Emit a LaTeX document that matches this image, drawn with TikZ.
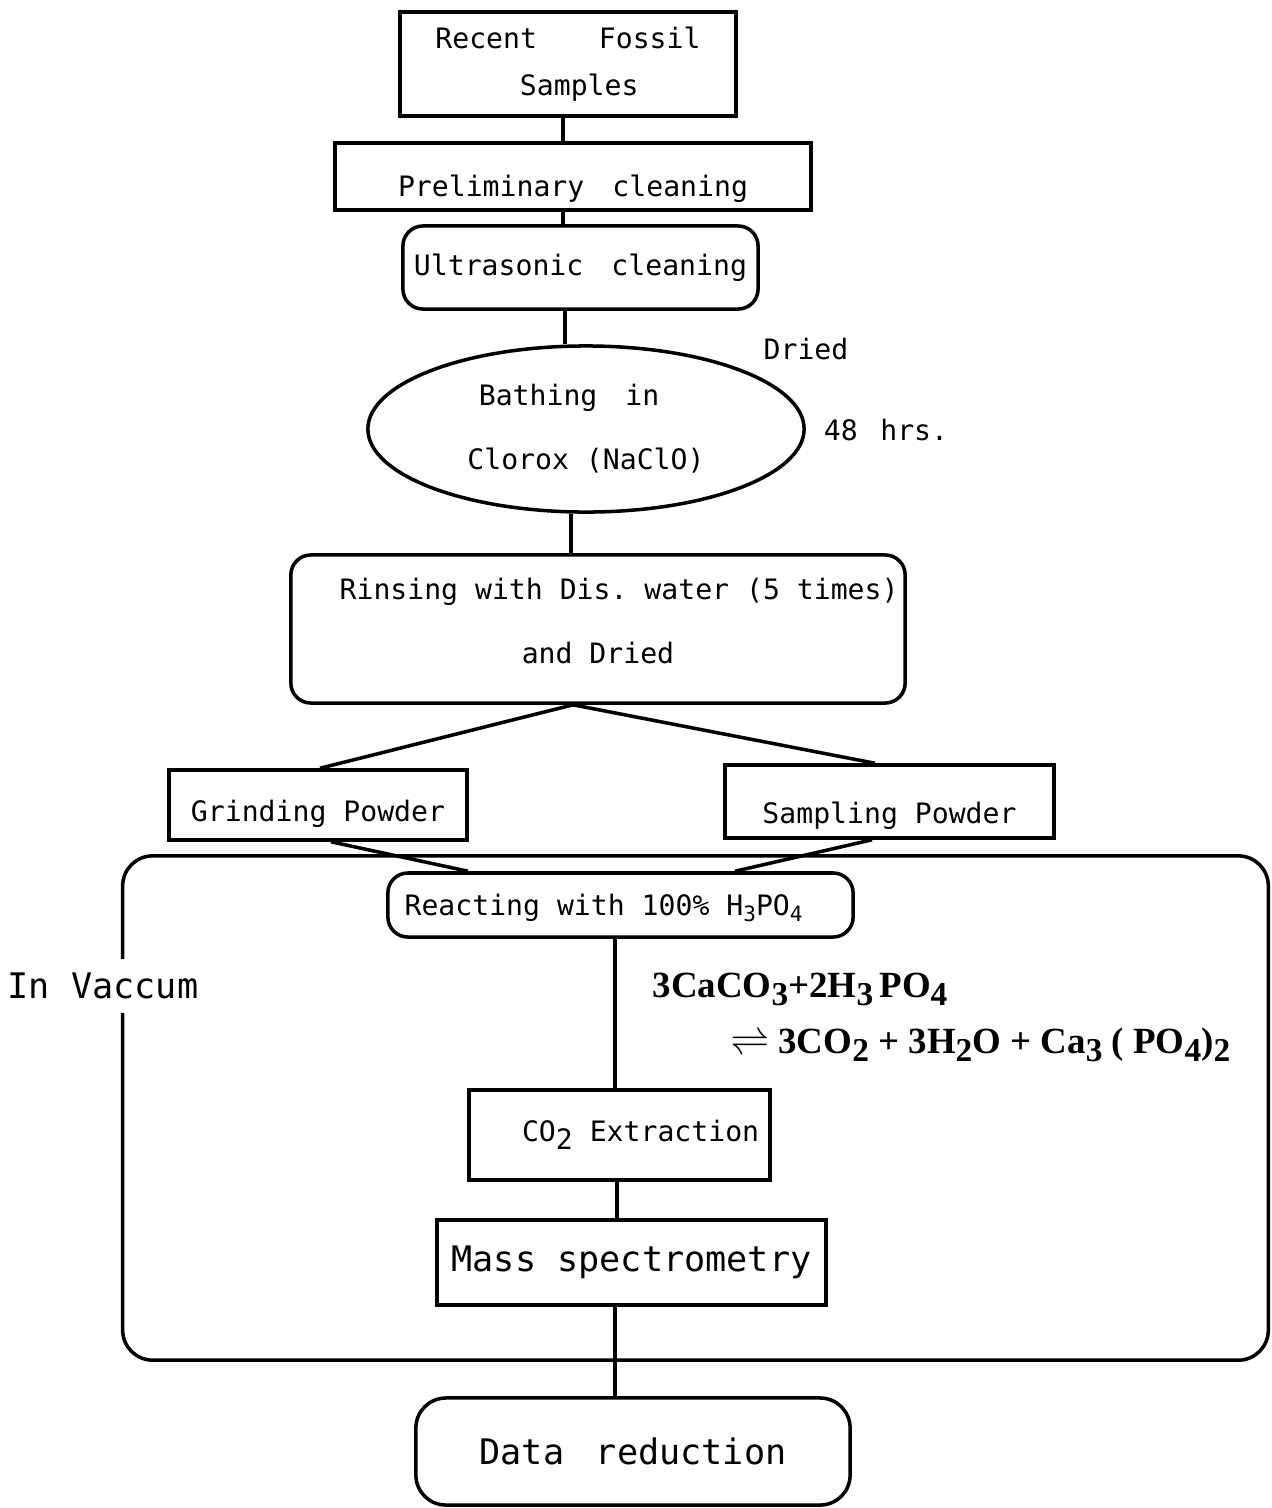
\documentclass[tikz,border=0pt]{standalone}
\usepackage{fontspec}
\setmainfont{Liberation Serif}
\setmonofont{DejaVu Sans Mono}
\usetikzlibrary{shapes.geometric}
\newcommand{\lowidx}[1]{\raisebox{-0.45ex}{\fontsize{6}{6}\selectfont #1}}
\newcommand{\eqidx}[1]{\raisebox{-0.5ex}{\fontsize{9.5}{8}\selectfont\bfseries #1}}
\newcommand{\lowered}[2]{\raisebox{-#1}[0pt][0pt]{#2}}
\tikzset{
  stepbox/.style={draw=black,line width=1pt,inner sep=0pt,align=center,font=\ttfamily\fontsize{8}{18.2}\selectfont},
  roundbox/.style={stepbox,rounded corners=0.2cm},
  ovalbox/.style={stepbox,ellipse},
  bigbox/.style={stepbox,font=\ttfamily\fontsize{10}{12}\selectfont},
  vacbox/.style={draw=black,line width=1pt,rounded corners=0.3cm,inner sep=0pt},
  note/.style={inner sep=1pt,font=\ttfamily\fontsize{8}{10}\selectfont},
  link/.style={draw=black,line width=1pt}
}
\begin{document}
\begin{tikzpicture}[x=0.01cm,y=-0.01cm]
  \useasboundingbox (0,0) rectangle (1272,1508);
  % process chain
  \node[stepbox,font=\ttfamily\fontsize{8}{13.4}\selectfont,minimum width=3.36cm,minimum height=1.04cm] (samples) at (568,64) {Recent\hspace{2.2em}Fossil\\\hspace{0.8em}Samples};
  \node[stepbox,minimum width=4.76cm,minimum height=0.67cm] (prelim) at (573,176.5) {\lowered{0.2cm}{Preliminary\hspace{1em}cleaning}};
  \node[roundbox,minimum width=3.55cm,minimum height=0.83cm] (ultra) at (580.5,267.5) {Ultrasonic\hspace{1em}cleaning};
  \node[ovalbox,minimum width=4.36cm,minimum height=1.66cm] (bath) at (586,429) {\hspace{-1.2em}Bathing\hspace{1em}in\\Clorox (NaClO)};
  \node[note] (dried) at (806,349) {Dried};
  \node[note] (hrs) at (886,430) {48\hspace{0.8em}hrs.};
  \node[roundbox,minimum width=6.14cm,minimum height=1.48cm] (rinse) at (598,629) {\hspace{1.5em}Rinsing with Dis. water (5 times)\\and Dried\\[-0.48cm]};
  \node[stepbox,minimum width=2.98cm,minimum height=0.70cm] (grind) at (318,805) {\lowered{0.16cm}{Grinding Powder}};
  \node[stepbox,minimum width=3.29cm,minimum height=0.73cm] (sampl) at (889.5,801.5) {\lowered{0.22cm}{Sampling Powder}};
  % vacuum line
  \node[vacbox,minimum width=11.45cm,minimum height=5.04cm] (vacuum) at (695.5,1108) {};
  \node[fill=white,inner sep=4pt,font=\ttfamily\fontsize{10}{12}\selectfont] (vaclabel) at (103,986) {In Vaccum};
  \node[roundbox,minimum width=4.65cm,minimum height=0.64cm] (react) at (620.5,905) {\lowered{0.1cm}{\hspace{-1.2em}Reacting with 100\% H\lowidx{3}PO\lowidx{4}}};
  \node[align=left,inner sep=0pt,font=\bfseries\fontsize{10.5}{16}\selectfont,anchor=north west] (eqn) at (652,972)
    {3CaCO\eqidx{3}+2H\eqidx{3}\,PO\eqidx{4}\\
     \hspace{0.78cm}$\rightleftharpoons$ 3CO\eqidx{2} + 3H\eqidx{2}O + Ca\eqidx{3} ( PO\eqidx{4})\eqidx{2}};
  \node[stepbox,minimum width=3.01cm,minimum height=0.90cm] (extract) at (619.5,1135) {\hspace{1.5em}CO{\raisebox{-0.5ex}{\fontsize{8}{8}\selectfont 2}} Extraction};
  \node[bigbox,minimum width=3.89cm,minimum height=0.85cm] (mass) at (631.5,1262.5) {Mass\hspace{0.6em}spectrometry};
  \node[bigbox,rounded corners=0.3cm,minimum width=4.34cm,minimum height=1.07cm] (data) at (633,1451.5) {Data\hspace{0.9em}reduction};
  % connectors
  \draw[link] (samples.south -| 563,0) -- (prelim.north -| 563,0);
  \draw[link] (prelim.south -| 563,0) -- (ultra.north -| 563,0);
  \draw[link] (ultra.south -| 565,0) -- (bath.north -| 565,0);
  \draw[link] (bath.south -| 571,0) -- (rinse.north -| 571,0);
  \draw[link] (rinse.south -| 573,0) -- (grind.north -| 320,0);
  \draw[link] (rinse.south -| 573,0) -- (sampl.north -| 875,0);
  \draw[link] (grind.south -| 331,0) -- (react.north -| 468,0);
  \draw[link] (sampl.south -| 872,0) -- (react.north -| 735,0);
  \draw[link] (react.south -| 615,0) -- (extract.north -| 615,0);
  \draw[link] (extract.south -| 617,0) -- (mass.north -| 617,0);
  \draw[link] (mass.south -| 615,0) -- (data.north -| 615,0);
\end{tikzpicture}
\end{document}
